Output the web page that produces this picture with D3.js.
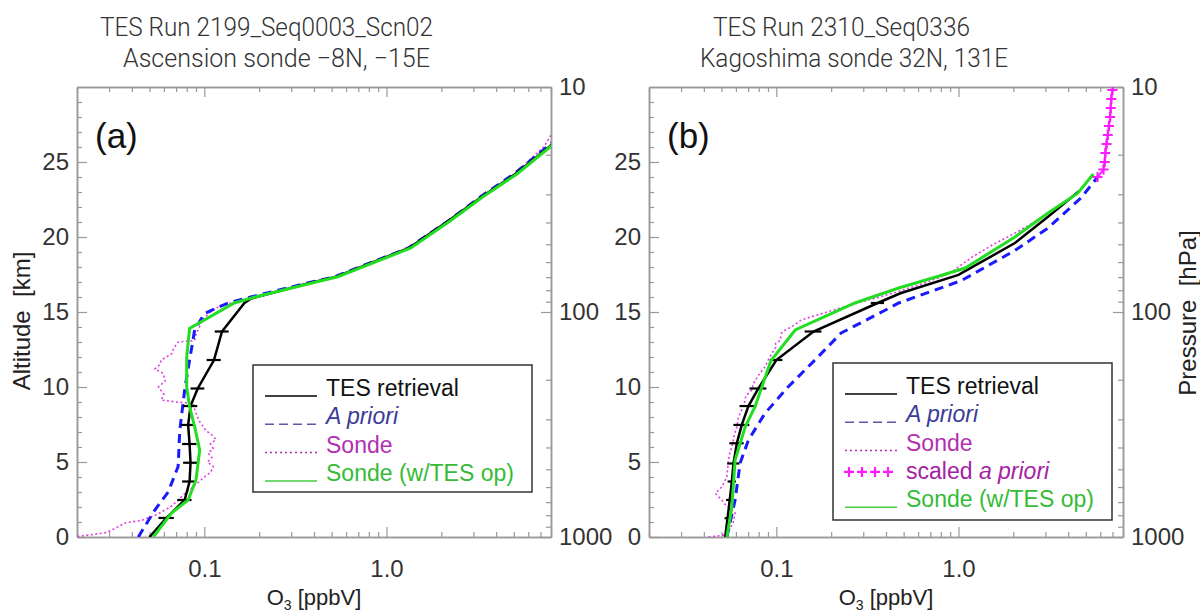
<!DOCTYPE html>
<meta charset="utf-8">
<style>
body { margin: 0; background: #fff; }
text { font-family: 'Liberation Sans', Arial, Helvetica, sans-serif; }
.tick text { font-size: 24px; fill: #333; }
.title { font-family: Roboto, 'DejaVu Sans', sans-serif; font-weight: 300; font-size: 26px; fill: #333; }
</style>
<svg width="1200" height="612"></svg>
<script src="https://d3js.org/d3.v7.min.js"></script>
<script>
// ---- panel (a): Ascension ----
var tesAltA  = [0, 1.27, 2.47, 3.7, 4.95, 6.2, 7.47, 8.73, 9.9, 11.8, 13.7, 15.6, 15.9, 16.9, 17.35, 19.27, 21.1, 22.7, 24.2, 26.0, 27.0];
var tesValA  = [0.050, 0.062, 0.078, 0.083, 0.084, 0.083, 0.0815, 0.084, 0.092, 0.113, 0.125, 0.166, 0.181, 0.37, 0.53, 1.33, 2.2, 3.35, 5.1, 7.8, 9.6];
var tesErrA  = [0, 0.006, 0.007, 0.0075, 0.0075, 0.0075, 0.0073, 0.0075, 0.008, 0.010, 0.011, 0, 0, 0, 0, 0, 0, 0, 0, 0, 0];
var aprAltA  = [0, 1.8, 3.0, 4.7, 7.1, 9.8, 11.8, 13.8, 14.9, 15.6, 16.0, 16.9, 17.35, 19.27, 21.1, 22.7, 24.2, 26.0, 27.0];
var aprValA  = [0.0434, 0.0535, 0.0633, 0.0718, 0.0733, 0.078, 0.083, 0.0885, 0.1, 0.135, 0.18, 0.36, 0.52, 1.32, 2.2, 3.3, 5.0, 7.6, 9.5];
var sonAltA  = [0.0, 0.15, 0.3, 0.55, 0.8, 0.95, 1.1, 1.5, 2.0, 2.45, 2.7, 3.1, 3.6, 4.0, 4.3, 4.7, 5.0, 5.3, 5.6, 5.9, 6.2, 6.5, 6.8, 7.1, 7.4, 7.8, 8.25, 8.6, 8.9, 9.0, 9.13, 9.5, 10.0, 10.4, 10.9, 11.2, 11.5, 11.8, 12.2, 12.6, 13.0, 13.1, 13.5, 14.0, 14.5, 15.0, 15.35, 15.6, 16.0, 16.9, 17.35, 19.27, 21.1, 22.7, 24.2, 26.0, 26.9, 27.5];
var sonValA  = [0.019, 0.024, 0.029, 0.032, 0.035, 0.037, 0.045, 0.055, 0.065, 0.072, 0.075, 0.082, 0.092, 0.1, 0.108, 0.112, 0.104, 0.11, 0.105, 0.112, 0.108, 0.116, 0.11, 0.102, 0.098, 0.093, 0.09, 0.088, 0.087, 0.07, 0.058, 0.06, 0.056, 0.061, 0.0595, 0.0535, 0.057, 0.058, 0.066, 0.068, 0.072, 0.0885, 0.09, 0.094, 0.098, 0.108, 0.12, 0.14, 0.185, 0.37, 0.53, 1.33, 2.22, 3.35, 5.05, 7.3, 8.1, 9.5];
var grnAltA  = [0, 1.6, 2.47, 3.8, 5.8, 7.35, 8.7, 10, 12, 13.9, 15.6, 16.0, 16.9, 17.35, 19.27, 21.1, 22.7, 24.2, 26.0, 27.0];
var grnValA  = [0.0525, 0.066, 0.0815, 0.090, 0.0943, 0.0885, 0.083, 0.080, 0.080, 0.083, 0.146, 0.19, 0.38, 0.54, 1.36, 2.25, 3.4, 5.2, 7.9, 10];

// ---- panel (b): Kagoshima ----
var tesAltB  = [0, 1.25, 2.47, 3.7, 4.9, 6.25, 7.47, 8.73, 9.9, 11.8, 13.7, 15.6, 16.25, 17.47, 19.6, 21.35, 23.07];
var tesValB  = [0.0524, 0.054, 0.0555, 0.057, 0.0582, 0.0607, 0.0646, 0.0703, 0.0797, 0.1, 0.16, 0.36, 0.48, 1.0, 2.04, 3.1, 4.6];
var tesErrB  = [0, 0.002, 0.0025, 0.003, 0.0045, 0.0055, 0.0065, 0.0075, 0.0085, 0.008, 0.017, 0.03, 0, 0, 0, 0, 0];
var aprAltB  = [0, 2.47, 4.93, 6.47, 8.25, 10.0, 11.8, 13.6, 15.1, 15.6, 17.1, 19.1, 20.6, 22.6, 24.1];
var aprValB  = [0.0535, 0.0594, 0.0633, 0.0703, 0.0867, 0.116, 0.163, 0.227, 0.393, 0.47, 1.04, 2.04, 3.1, 4.7, 5.9];
var sonAltB  = [0, 0.1, 0.2, 0.6, 1.0, 1.6, 1.9, 2.2, 2.47, 2.9, 3.1, 3.35, 3.7, 4.0, 4.5, 5.13, 5.6, 6.0, 6.7, 7.35, 8.0, 8.47, 9.0, 9.4, 9.8, 10.25, 10.8, 11.35, 12.0, 12.7, 12.9, 13.1, 13.6, 13.8, 14.0, 14.47, 15.0, 15.6, 16.3, 17.0, 17.6, 18.7, 19.5, 20.2, 20.8, 21.4];
var sonValB  = [0.0425, 0.05, 0.054, 0.056, 0.058, 0.0594, 0.056, 0.052, 0.0502, 0.0463, 0.048, 0.0502, 0.052, 0.0535, 0.054, 0.0546, 0.0555, 0.057, 0.0585, 0.0607, 0.062, 0.0646, 0.067, 0.068, 0.0733, 0.075, 0.08, 0.0867, 0.092, 0.1, 0.099, 0.105, 0.107, 0.112, 0.121, 0.137, 0.19, 0.28, 0.45, 0.68, 0.9, 1.2, 1.55, 2.0, 2.45, 2.95];
var sclAltB  = [24.0, 24.5, 25.0, 25.6, 26.2, 26.8, 27.4, 28.0, 28.6, 29.2, 29.8];
var sclValB  = [5.8, 6.25, 6.35, 6.4, 6.5, 6.6, 6.7, 6.8, 6.85, 6.9, 7.0];
var grnAltB  = [0, 2.0, 5.13, 7.35, 8.7, 11.6, 11.8, 13.8, 15.6, 16.6, 17.35, 17.93, 20.0, 21.6, 22.9, 24.2];
var grnValB  = [0.0535, 0.057, 0.0594, 0.0675, 0.0765, 0.0924, 0.094, 0.127, 0.27, 0.47, 0.76, 1.09, 2.04, 3.1, 4.5, 5.5];

// ---- axes / text ----
var xMajor   = [0.1, 1];
var xLabels  = ["0.1", "1.0"];
var altMajor = [0, 5, 10, 15, 20, 25];
var presMajor = [10, 100, 1000];
var titlesA  = ["TES Run 2199_Seq0003_Scn02", "Ascension sonde \u22128N, \u221215E"];
var titlesB  = ["TES Run 2310_Seq0336", "Kagoshima sonde 32N, 131E"];
var legendA  = ["TES retrieval", "A priori", "Sonde", "Sonde (w/TES op)"];
var legendB  = ["TES retrieval", "A priori", "Sonde", "scaled a priori", "Sonde (w/TES op)"];

var svg = d3.select("svg");
svg.append("rect").attr("width", 1200).attr("height", 612).attr("fill", "#fff");

var W = 474, H = 450, TOP = 87;
var x = d3.scaleLog().domain([0.02, 8]).range([0, W]);
var y = d3.scaleLinear().domain([0, 30]).range([H, 0]);
var p = d3.scaleLog().domain([1000, 10]).range([H, 0]);

var xMinor = [], pMinor = [], altMinor = [];
[0.01, 0.1, 1].forEach(function(dec) {
  for (var k = 2; k <= 9; k++) if (dec * k <= 8) xMinor.push(dec * k);
});
[10, 100].forEach(function(dec) {
  for (var k = 2; k <= 9; k++) pMinor.push(dec * k);
});
for (var a = 1; a < 30; a++) if (a % 5) altMinor.push(a);

var C = {
  tes: "#000", apr: "#1a1aff", son: "#e23ce2", grn: "#22dd22", scl: "#ff1aff",
  aprTxt: "#3b3b98", sonTxt: "#b22fb2", sclTxt: "#a322a3", grnTxt: "#36bb36"
};

function zip(a, v) { return a.map(function(d, i) { return [d, v[i]]; }); }

function drawPanel(left, id, d) {
  var g = svg.append("g").attr("transform", "translate(" + left + "," + TOP + ")");

  g.append("clipPath").attr("id", "clip" + id)
    .append("rect").attr("width", W).attr("height", H);

  // axes, ticks inward
  function ax(gen, t, size, labels, tr) {
    var a = g.append("g").attr("transform", tr || null)
      .call(gen.tickValues(t).tickSize(size).tickSizeOuter(0).tickPadding(8)
        .tickFormat(labels ? function(v, i) { return labels[i]; } : ""));
    a.select(".domain").attr("stroke", "#999").attr("stroke-width", 1.5);
    a.selectAll(".tick line").attr("stroke", "#999").attr("stroke-width", 1.2);
    a.attr("font-family", null).attr("font-size", null);
    return a;
  }
  ax(d3.axisLeft(y), altMajor, -10, altMajor.map(String));
  ax(d3.axisLeft(y), altMinor, -5, null);
  ax(d3.axisRight(p), presMajor, -10, presMajor.map(String), "translate(" + W + ",0)");
  ax(d3.axisRight(p), pMinor, -5, null, "translate(" + W + ",0)");
  ax(d3.axisBottom(x), xMajor, -10, xLabels, "translate(0," + H + ")")
    .selectAll(".tick text").attr("dy", "1.35em");
  ax(d3.axisBottom(x), xMinor, -5, null, "translate(0," + H + ")");
  ax(d3.axisTop(x), xMajor, -10, null);
  ax(d3.axisTop(x), xMinor, -5, null);

  var line = d3.line().x(function(q) { return x(q[1]); }).y(function(q) { return y(q[0]); });
  var plot = g.append("g").attr("clip-path", "url(#clip" + id + ")");

  plot.append("path").datum(d.son).attr("d", line).attr("fill", "none")
    .attr("stroke", C.son).attr("stroke-width", 1.6).attr("stroke-dasharray", "2,2.5");
  plot.append("path").datum(d.apr).attr("d", line).attr("fill", "none")
    .attr("stroke", C.apr).attr("stroke-width", 3).attr("stroke-dasharray", "9,6");
  plot.append("path").datum(d.tes).attr("d", line).attr("fill", "none")
    .attr("stroke", C.tes).attr("stroke-width", 2.5);
  var bars = d.tes.map(function(q, i) { return [q[0], q[1], d.err[i]]; })
    .filter(function(q) { return q[2] > 0; });
  plot.selectAll(".err").data(bars)
    .enter().append("line")
    .attr("x1", function(q) { return x(q[1] - q[2]); })
    .attr("x2", function(q) { return x(q[1] + q[2]); })
    .attr("y1", function(q) { return y(q[0]); })
    .attr("y2", function(q) { return y(q[0]); })
    .attr("stroke", "#000").attr("stroke-width", 2.2);
  plot.append("path").datum(d.grn).attr("d", line).attr("fill", "none")
    .attr("stroke", C.grn).attr("stroke-width", 3);
  if (d.scl) {
    plot.append("path").datum(d.scl).attr("d", line).attr("fill", "none")
      .attr("stroke", C.scl).attr("stroke-width", 2);
    plot.selectAll(".plus").data(d.scl).enter().append("path")
      .attr("d", "M-5,0H5M0,-5V5")
      .attr("transform", function(q) { return "translate(" + x(q[1]) + "," + y(q[0]) + ")"; })
      .attr("stroke", C.scl).attr("stroke-width", 2.2).attr("fill", "none");
  }

  // panel letter
  g.append("text").attr("x", 18).attr("y", 61).attr("font-size", 35).attr("fill", "#111")
    .text("(" + id + ")");

  // axis title
  var xt = g.append("text").attr("x", W / 2).attr("y", H + 68).attr("text-anchor", "middle")
    .attr("font-size", 22).attr("fill", "#222");
  xt.append("tspan").text("O");
  xt.append("tspan").attr("font-size", 14).attr("dy", 5).text("3");
  xt.append("tspan").attr("dy", -5).text(" [ppbV]");

  // titles
  d.titles.forEach(function(t, i) {
    svg.append("text").attr("class", "title")
      .attr("x", d.tx[i]).attr("y", 36 + 31 * i)
      .attr("textLength", d.tw[i]).attr("lengthAdjust", "spacingAndGlyphs")
      .text(t);
  });

  // legend
  var L = d.leg;
  var lg = svg.append("g").attr("transform", "translate(" + L.x + "," + L.y + ")");
  lg.append("rect").attr("width", L.w).attr("height", L.h)
    .attr("fill", "#fff").attr("stroke", "#333").attr("stroke-width", 1.5);
  d.legItems.forEach(function(it, i) {
    var by = 31 + 28.3 * i;
    if (it.kind === "plus") {
      [0, 1, 2, 3].forEach(function(k) {
        lg.append("path").attr("d", "M-5,0H5M0,-5V5")
          .attr("transform", "translate(" + (16 + 13 * k) + "," + (by - 7) + ")")
          .attr("stroke", C.scl).attr("stroke-width", 2.2);
      });
    } else {
      lg.append("line").attr("x1", 12).attr("x2", 64).attr("y1", by).attr("y2", by)
        .attr("stroke", it.stroke).attr("stroke-width", 1.5)
        .attr("stroke-dasharray", it.dash || null);
    }
    var t = lg.append("text").attr("x", 73).attr("y", by).attr("font-size", 23).attr("fill", it.color);
    if (it.label === "A priori") t.attr("font-style", "italic").text(it.label);
    else if (it.label === "scaled a priori") {
      t.append("tspan").text("scaled ");
      t.append("tspan").attr("font-style", "italic").text("a priori");
    } else t.text(it.label);
  });
}

function items(labels) {
  var sty = {
    "TES retrieval": { stroke: "#000", color: "#111" },
    "A priori": { stroke: "#5a5aa8", color: C.aprTxt, dash: "9,5" },
    "Sonde": { stroke: C.sonTxt, color: C.sonTxt, dash: "2,3" },
    "scaled a priori": { kind: "plus", color: C.sclTxt },
    "Sonde (w/TES op)": { stroke: "#44cc44", color: C.grnTxt }
  };
  return labels.map(function(l) { return Object.assign({ label: l }, sty[l]); });
}

drawPanel(77, "a", {
  tes: zip(tesAltA, tesValA), err: tesErrA, apr: zip(aprAltA, aprValA),
  son: zip(sonAltA, sonValA), grn: zip(grnAltA, grnValA),
  titles: titlesA, tx: [100, 123], tw: [333, 307],
  leg: { x: 253, y: 365, w: 279, h: 127 }, legItems: items(legendA)
});
drawPanel(649, "b", {
  tes: zip(tesAltB, tesValB), err: tesErrB, apr: zip(aprAltB, aprValB),
  son: zip(sonAltB, sonValB), grn: zip(grnAltB, grnValB), scl: zip(sclAltB, sclValB),
  titles: titlesB, tx: [713, 700], tw: [257, 308],
  leg: { x: 833, y: 363, w: 279, h: 157 }, legItems: items(legendB)
});

// side axis titles
svg.append("text").attr("transform", "translate(30,321) rotate(-90)")
  .attr("text-anchor", "middle").attr("font-size", 24).attr("fill", "#222")
  .attr("xml:space", "preserve").text("Altitude  [km]");
svg.append("text").attr("transform", "translate(1196,313) rotate(-90)")
  .attr("text-anchor", "middle").attr("font-size", 24).attr("fill", "#222")
  .attr("xml:space", "preserve").text("Pressure  [hPa]");
</script>
